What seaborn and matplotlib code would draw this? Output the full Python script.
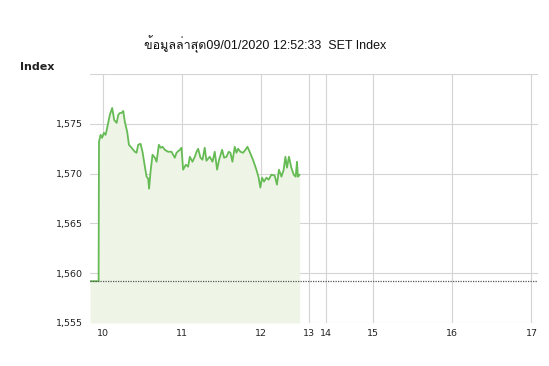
import matplotlib
matplotlib.use("Agg")
import matplotlib.pyplot as plt
from matplotlib import font_manager
from matplotlib.ft2font import FT2Font
from matplotlib.ticker import FuncFormatter
import numpy as np
import pandas as pd
import seaborn as sns

# SET index intraday, minutes after 10:00 and index level
minutes = [-10, -3.5, -3.2, -2, -0.8, 0.5, 1.8, 3, 5, 6.8, 8.3, 10.2, 11.4, 12.7,
           13.9, 15.2, 16.4, 18.2, 19.5, 21.5, 24, 25.3, 26.5, 28.3, 29.8, 31.6,
           32.9, 34.1, 34.8, 35.9, 37.4, 39.2, 40.5, 42.2, 43.5, 45, 46.7, 49.2,
           51.8, 54.3, 55.6, 58.1, 59.4, 60.6, 62.7, 64.4, 65.7, 67.7, 69.5, 70.8,
           72, 73.8, 75.3, 77, 78.3, 80.8, 82.9, 84.6, 86.4, 87.9, 90.2, 91.7,
           93.5, 95.2, 96.5, 98, 99.8, 101.1, 102.3, 104.1, 106.1, 107.9, 109.4,
           111.1, 113.6, 116.2, 117.9, 119.2, 120.5, 122, 123.8, 125.5, 127.6,
           130.1, 131.8, 133.3, 135.2, 136.9, 138.2, 139.4, 140.9, 142.7, 144.5,
           146, 147, 147.7, 149]
index_vals = [1559.2, 1559.2, 1573.2, 1573.9, 1573.6, 1574.1, 1573.9, 1574.6, 1575.9,
              1576.6, 1575.4, 1575.1, 1575.9, 1576.1, 1576.1, 1576.3, 1575.2, 1574.2,
              1572.9, 1572.6, 1572.2, 1572.1, 1572.9, 1573.0, 1572.2, 1570.7, 1569.7,
              1569.5, 1568.5, 1570.2, 1571.9, 1571.6, 1571.2, 1572.9, 1572.6, 1572.7,
              1572.4, 1572.2, 1572.2, 1571.6, 1572.1, 1572.4, 1572.6, 1570.4, 1570.9,
              1570.7, 1571.7, 1571.2, 1571.7, 1572.2, 1572.5, 1571.6, 1571.4, 1572.6,
              1571.3, 1571.7, 1571.2, 1572.2, 1570.4, 1571.4, 1572.4, 1571.6, 1571.7,
              1572.2, 1572.1, 1571.2, 1572.7, 1572.1, 1572.5, 1572.2, 1572.1, 1572.4,
              1572.7, 1572.2, 1571.4, 1570.4, 1569.6, 1568.6, 1569.6, 1569.2, 1569.6,
              1569.4, 1569.9, 1569.8, 1568.9, 1570.4, 1569.7, 1570.4, 1571.7, 1570.6,
              1571.7, 1570.6, 1569.9, 1569.7, 1571.2, 1569.7, 1569.9]
prev_close = 1559.2
hour_ticks = [10, 11, 12, 13, 14, 15, 16, 17]
y_ticks = [1555, 1560, 1565, 1570, 1575, 1580]
title_text = "ข้อมูลล่าสุด09/01/2020 12:52:33  SET Index"


def squeeze(t):
    # lunch break 12:30-14:30 is drawn narrow
    t = np.asarray(t, dtype=float)
    return np.where(t <= 150, t,
                    np.where(t <= 270, 150 + (t - 150) * 0.207,
                             150 + 120 * 0.207 + (t - 270)))


def thai_families():
    # look for installed fonts that have Thai letters
    found = []
    for f in font_manager.fontManager.ttflist:
        if f.name in found:
            continue
        try:
            cmap = FT2Font(f.fname).get_charmap()
        except Exception:
            continue
        if ord("ข") in cmap and ord("ุ") in cmap:
            found.append(f.name)
    return found


df = pd.DataFrame({"pos": squeeze(minutes), "index": index_vals})

sns.set_theme(style="white")
plt.rcParams['font.family'] = ['DejaVu Sans']
title_fams = ['Liberation Sans'] + thai_families() + ['DejaVu Sans']

fig = plt.figure(figsize=(5.49, 3.66), dpi=100)
ax = fig.add_axes([0.164, 0.1175, 0.816, 0.68])

ax.fill_between(df["pos"], df["index"], 1555, color="#eef5e7", lw=0)
sns.lineplot(data=df, x="pos", y="index", ax=ax, color="#66bb55", lw=1.3)
ax.axhline(prev_close, color="#555555", lw=0.9, ls=(0, (1, 1)))

ax.set_xlim(squeeze(-10), squeeze(425))
ax.set_ylim(1555, 1580)
ax.set_xticks(squeeze([(h - 10) * 60 for h in hour_ticks]))
ax.set_xticklabels([str(h) for h in hour_ticks])
ax.set_yticks(y_ticks)
ax.yaxis.set_major_formatter(FuncFormatter(lambda v, p: "{:,.0f}".format(v) if v < 1580 else ""))
ax.grid(True, color="#d4d4d4", lw=0.8)
ax.tick_params(axis="both", labelsize=6.8, length=0, pad=4, colors="#222222")
ax.tick_params(axis="y", length=3, color="#d4d4d4", pad=2)
for s in ax.spines.values():
    s.set_visible(False)
ax.set_xlabel("")
ax.set_ylabel("")

fig.text(0.036, 0.817, "Index", fontsize=8, fontweight="bold", color="#222222",
         va="center")
fig.text(0.483, 0.88, title_text, fontsize=9, ha="center", va="center",
         color="#111111", family=title_fams)

fig.savefig("out.png", dpi=100)
